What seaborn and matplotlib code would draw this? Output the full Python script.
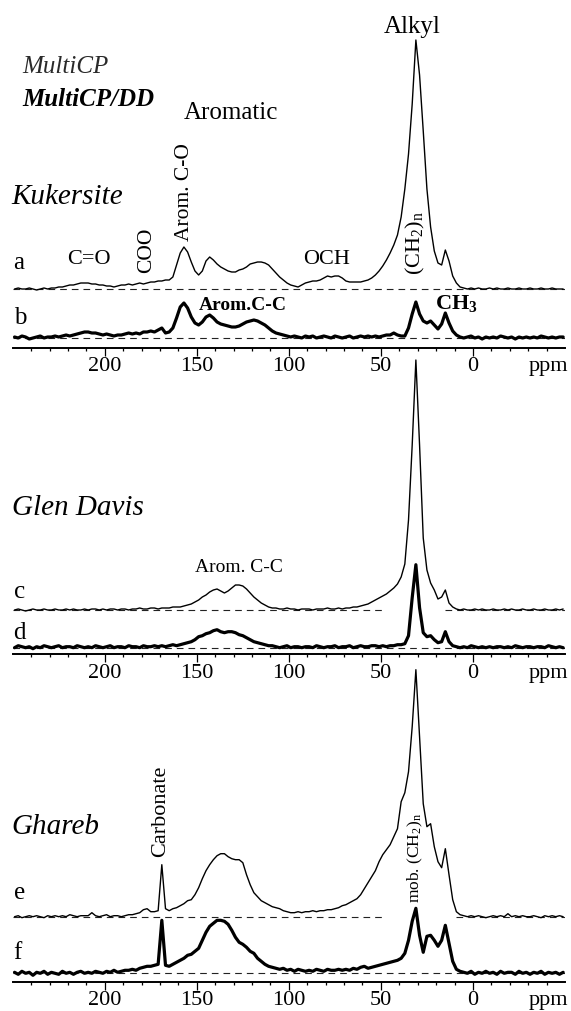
import numpy as np
import pandas as pd
import matplotlib
matplotlib.use("Agg")
import matplotlib.pyplot as plt
import seaborn as sns
from matplotlib.ticker import FixedLocator, FixedFormatter

# Chemical-shift axis (ppm), 2 ppm sampling, 249 ... -49
ppm = np.arange(249, -50, -2)

# 13C NMR intensities (arbitrary units above each trace's own baseline).
# Each row of ten covers 20 ppm: 249-231, 229-211, ..., -31 - -49.
kukersite_cp = [
    0, 1, 0, 0, 1, 0, -1, 0, 1, 0,
    1, 1, 2, 2, 3, 4, 4, 5, 6, 6,
    6, 5, 5, 4, 4, 3, 3, 2, 3, 4,
    4, 5, 4, 5, 6, 5, 6, 7, 7, 8,
    8, 9, 9, 12, 24, 36, 42, 37, 27, 18,
    14, 18, 28, 32, 29, 25, 22, 20, 18, 17,
    17, 19, 20, 22, 25, 26, 27, 27, 26, 24,
    20, 16, 12, 9, 6, 4, 3, 2, 4, 6,
    7, 8, 8, 9, 11, 13, 12, 13, 13, 11,
    8, 7, 7, 7, 7, 8, 9, 11, 14, 18,
    23, 29, 36, 44, 54, 72, 100, 135, 185, 249,
    214, 158, 100, 62, 38, 26, 24, 39, 28, 13,
    6, 2, 1, 0, 1, 0, 1, 0, 0, 1,
    0, 1, 0, 0, 1, 0, 0, 1, 0, 0,
    1, 0, 0, 1, 0, 0, 1, 0, 0, 0,
]
kukersite_dd = [
    1, 0, 2, 1, -1, 0, 1, 2, 0, 1,
    1, 2, 1, 2, 3, 2, 3, 4, 5, 6,
    6, 5, 5, 4, 3, 4, 3, 2, 3, 3,
    4, 5, 4, 5, 4, 6, 6, 7, 6, 8,
    10, 5, 6, 10, 20, 31, 35, 30, 21, 15,
    13, 16, 21, 23, 20, 16, 14, 13, 12, 11,
    11, 12, 14, 16, 17, 18, 17, 15, 13, 10,
    7, 5, 4, 3, 2, 1, 2, 1, 0, 2,
    1, 2, 0, 1, 2, 1, 0, 2, 1, 0,
    1, 2, 0, 1, 2, 1, 2, 1, 2, 1,
    2, 3, 3, 5, 3, 2, 2, 10, 24, 36,
    24, 17, 15, 17, 13, 9, 14, 25, 15, 7,
    3, 1, 0, 1, 2, 0, 1, -1, 1, 0,
    1, 0, 2, 1, 0, 1, -1, 1, 0, 1,
    0, 1, 0, 2, 1, 0, 1, 0, 1, 1,
]
glen_davis_cp = [
    0, 1, 0, -1, 0, 1, 0, 0, 1, 0,
    0, 1, 0, 0, 1, 0, 1, 0, 0, 1,
    0, 1, 1, 0, 1, 0, 1, 1, 0, 1,
    1, 0, 1, 1, 2, 1, 1, 2, 2, 1,
    2, 2, 2, 3, 3, 3, 4, 5, 6, 8,
    10, 13, 15, 18, 20, 21, 19, 17, 19, 22,
    25, 25, 24, 21, 17, 13, 10, 7, 5, 3,
    2, 2, 1, 1, 2, 1, 1, 0, 1, 1,
    1, 0, 1, 1, 1, 2, 1, 1, 2, 1,
    2, 2, 3, 3, 4, 5, 6, 8, 10, 12,
    14, 16, 19, 22, 26, 33, 46, 90, 165, 250,
    165, 72, 40, 27, 20, 11, 13, 20, 7, 3,
    1, 0, 1, 0, 0, 1, 0, 1, 0, 0,
    1, 0, 0, 1, 0, 1, 0, 0, 1, 0,
    0, 1, 0, 0, 1, 0, 0, 1, 0, 1,
]
glen_davis_dd = [
    0, 2, 1, 0, 1, -1, 1, 0, 2, 1,
    0, 1, 2, 0, 1, 1, 0, 2, 1, 0,
    1, 0, 2, 1, 0, 1, 2, 0, 1, 1,
    0, 2, 1, 1, 0, 2, 1, 1, 2, 1,
    2, 1, 2, 3, 2, 3, 4, 5, 6, 8,
    11, 12, 14, 15, 17, 18, 16, 15, 16, 16,
    15, 13, 12, 10, 8, 6, 5, 4, 3, 2,
    2, 1, 0, 1, 2, 0, 1, 1, 0, 1,
    1, 0, 2, 1, 0, 1, 1, 2, 0, 1,
    1, 2, 0, 1, 2, 1, 1, 2, 2, 1,
    2, 1, 2, 2, 3, 3, 4, 12, 50, 83,
    40, 15, 11, 12, 8, 5, 6, 16, 6, 2,
    1, 0, 1, 0, 2, 1, 0, 1, 0, 1,
    0, 1, 1, 0, 1, 0, 2, 1, 0, 1,
    1, 0, 1, 1, 0, 2, 1, 0, 1, 0,
]
ghareb_cp = [
    0, 1, -1, 0, 1, 0, 1, 0, -1, 1,
    0, 1, 0, 1, 0, 2, 1, 0, 1, 1,
    1, 4, 1, 0, 1, 2, 0, 1, 1, 0,
    1, 2, 2, 3, 4, 7, 8, 5, 5, 6,
    52, 8, 6, 8, 9, 11, 13, 16, 17, 22,
    29, 38, 46, 52, 57, 61, 63, 63, 60, 58,
    57, 57, 54, 42, 32, 24, 20, 16, 14, 12,
    10, 9, 8, 6, 5, 4, 4, 5, 4, 5,
    5, 6, 5, 6, 6, 7, 7, 8, 9, 11,
    12, 14, 16, 18, 22, 28, 34, 40, 46, 55,
    62, 67, 72, 80, 88, 115, 124, 145, 190, 247,
    180, 113, 90, 93, 70, 55, 49, 68, 42, 17,
    5, 2, 1, 0, 1, 0, 1, 0, -1, 0,
    1, 0, 1, 0, 3, 0, 1, 0, 1, 0,
    0, 1, 0, -1, 1, 0, 1, 0, 1, 0,
]
ghareb_dd = [
    1, -1, 2, 0, 1, -2, 1, 0, 2, -1,
    1, 0, -1, 2, 0, 1, -1, 1, 2, 0,
    1, 0, 2, 1, 0, 2, 1, 3, 1, 2,
    3, 3, 4, 3, 5, 6, 7, 7, 8, 9,
    53, 8, 7, 9, 11, 13, 15, 18, 19, 22,
    25, 33, 41, 47, 50, 53, 53, 52, 49, 43,
    36, 31, 29, 26, 22, 20, 15, 12, 9, 7,
    6, 5, 4, 5, 3, 4, 2, 4, 3, 2,
    3, 2, 4, 3, 2, 4, 3, 3, 4, 3,
    4, 3, 5, 4, 6, 7, 5, 6, 7, 8,
    9, 10, 11, 12, 13, 15, 20, 33, 52, 65,
    38, 21, 37, 38, 33, 27, 33, 48, 30, 12,
    4, 2, 1, 0, 2, -1, 1, 0, 2, 0,
    1, -1, 2, 0, 1, 1, -1, 2, 0, 1,
    -1, 1, 0, 2, -1, 1, 0, 1, -1, 1,
]

tick_values = [200, 150, 100, 50, 0]
tick_labels = ["200", "150", "100", "50", "0"]

sns.set_style("white")
plt.rcParams["font.family"] = ["Liberation Serif", "DejaVu Serif"]
plt.rcParams["text.color"] = "black"
plt.rcParams["mathtext.fontset"] = "custom"
plt.rcParams["mathtext.rm"] = "Liberation Serif"
plt.rcParams["mathtext.it"] = "Liberation Serif:italic"
plt.rcParams["mathtext.bf"] = "Liberation Serif:bold"

W, H = 571, 1011
fig = plt.figure(figsize=(W / 100, H / 100), dpi=100)
fig.patch.set_facecolor("white")

AX_LEFT, AX_RIGHT = 12.7, 565.0


def make_panel(axis_px, top_px):
    h = axis_px - top_px
    ax = fig.add_axes([AX_LEFT / W, 1 - axis_px / H, (AX_RIGHT - AX_LEFT) / W, h / H])
    ax.patch.set_visible(False)
    return ax, h


def style_axis(ax, h):
    ax.set_xlim(250, -50)
    ax.set_ylim(0, h)
    ax.set(xlabel="", ylabel="")
    ax.set_yticks([])
    for side in ("top", "left", "right"):
        ax.spines[side].set_visible(False)
    ax.spines["bottom"].set_linewidth(1.4)
    ax.spines["bottom"].set_color("black")
    ax.xaxis.set_major_locator(FixedLocator(tick_values + [-41]))
    ax.xaxis.set_major_formatter(FixedFormatter(tick_labels + ["ppm"]))
    ax.xaxis.set_minor_locator(FixedLocator(list(range(-40, 250, 10))))
    ax.tick_params(axis="x", which="major", direction="out", length=5.5, width=0.9,
                   pad=1.5, labelsize=16, colors="black", bottom=True)
    ax.tick_params(axis="x", which="minor", direction="out", length=2.5, width=0.9,
                   colors="black", bottom=True)
    ax.xaxis.get_major_ticks()[-1].tick1line.set_visible(False)


def draw_trace(ax, values, offset, lw, spans=((250, -50),)):
    for x0, x1 in spans:
        ax.hlines(offset, x0, x1, colors="#222222", linewidth=0.8,
                  linestyles=(0, (6, 4.5)), zorder=1)
    df = pd.DataFrame({"ppm": ppm, "intensity": np.asarray(values, float) + offset})
    sns.lineplot(data=df, x="ppm", y="intensity", ax=ax, color="black", linewidth=lw,
                 estimator=None, sort=False, zorder=3)
    ax.lines[-1].set_clip_on(False)
    ax.lines[-1].set_solid_joinstyle("round")


THIN, THICK = 1.0, 2.3

# ---------- Kukersite ----------
ax1, h1 = make_panel(347.5, 0)
draw_trace(ax1, kukersite_cp, 58.5, THIN)
draw_trace(ax1, kukersite_dd, 9.5, THICK)
style_axis(ax1, h1)

ax1.text(33, 320.5, "Alkyl", fontsize=18, ha="center", va="center")
ax1.text(244.6, 280.5, "MultiCP", fontsize=18, style="italic", ha="left", va="center",
         color="#2a2a2a")
ax1.text(244.6, 248.5, "MultiCP/DD", fontsize=18, style="italic", weight="bold",
         ha="left", va="center")
ax1.text(131.5, 234.5, "Aromatic", fontsize=18, ha="center", va="center")
ax1.text(250.5, 150.5, "Kukersite", fontsize=21, style="italic", ha="left", va="center")
ax1.text(249.5, 84.5, "a", fontsize=18, ha="left", va="center")
ax1.text(249.5, 29.5, "b", fontsize=18, ha="left", va="center")
ax1.text(208.7, 87.5, "C=O", fontsize=16, ha="center", va="center")
ax1.text(177.4, 97.5, "COO", fontsize=15.5, rotation=90, ha="center", va="center")
ax1.text(156.7, 155.5, "Arom. C-O", fontsize=15.5, rotation=90, ha="center", va="center")
ax1.text(79.5, 87.5, "OCH", fontsize=16, ha="center", va="center")
ax1.text(31, 104.5, r"(CH$_2$)$_\mathrm{n}$", fontsize=16, rotation=90,
         ha="center", va="center")
ax1.text(125, 42.5, "Arom.C-C", fontsize=14, weight="bold", ha="center", va="center")
ax1.text(9.2, 44.5, r"CH$_\mathbf{3}$", fontsize=16, weight="bold", ha="center", va="center")

# ---------- Glen Davis ----------
ax2, h2 = make_panel(654.3, 370)
draw_trace(ax2, glen_davis_cp, 44.3, THIN, spans=((250, 49), (15, -50)))
draw_trace(ax2, glen_davis_dd, 6.6, THICK)
style_axis(ax2, h2)

ax2.text(250.5, 146.3, "Glen Davis", fontsize=21, style="italic", ha="left", va="center")
ax2.text(127, 87.3, "Arom. C-C", fontsize=14, ha="center", va="center")
ax2.text(249.5, 62.3, "c", fontsize=18, ha="left", va="center")
ax2.text(249.5, 21.3, "d", fontsize=18, ha="left", va="center")

# ---------- Ghareb ----------
ax3, h3 = make_panel(981.7, 690)
draw_trace(ax3, ghareb_cp, 65.0, THIN, spans=((250, 49), (9, -50)))
draw_trace(ax3, ghareb_dd, 8.4, THICK)
style_axis(ax3, h3)

ax3.text(250.5, 154.7, "Ghareb", fontsize=21, style="italic", ha="left", va="center")
ax3.text(169.6, 170.7, "Carbonate", fontsize=16, rotation=90, ha="center", va="center")
ax3.text(31, 123.7, r"mob. (CH$_2$)$_\mathrm{n}$", fontsize=12.5, rotation=90,
         ha="center", va="center")
ax3.text(249.5, 88.7, "e", fontsize=18, ha="left", va="center")
ax3.text(249.5, 28.7, "f", fontsize=18, ha="left", va="center")

fig.savefig("out.png", dpi=100, facecolor="white")
